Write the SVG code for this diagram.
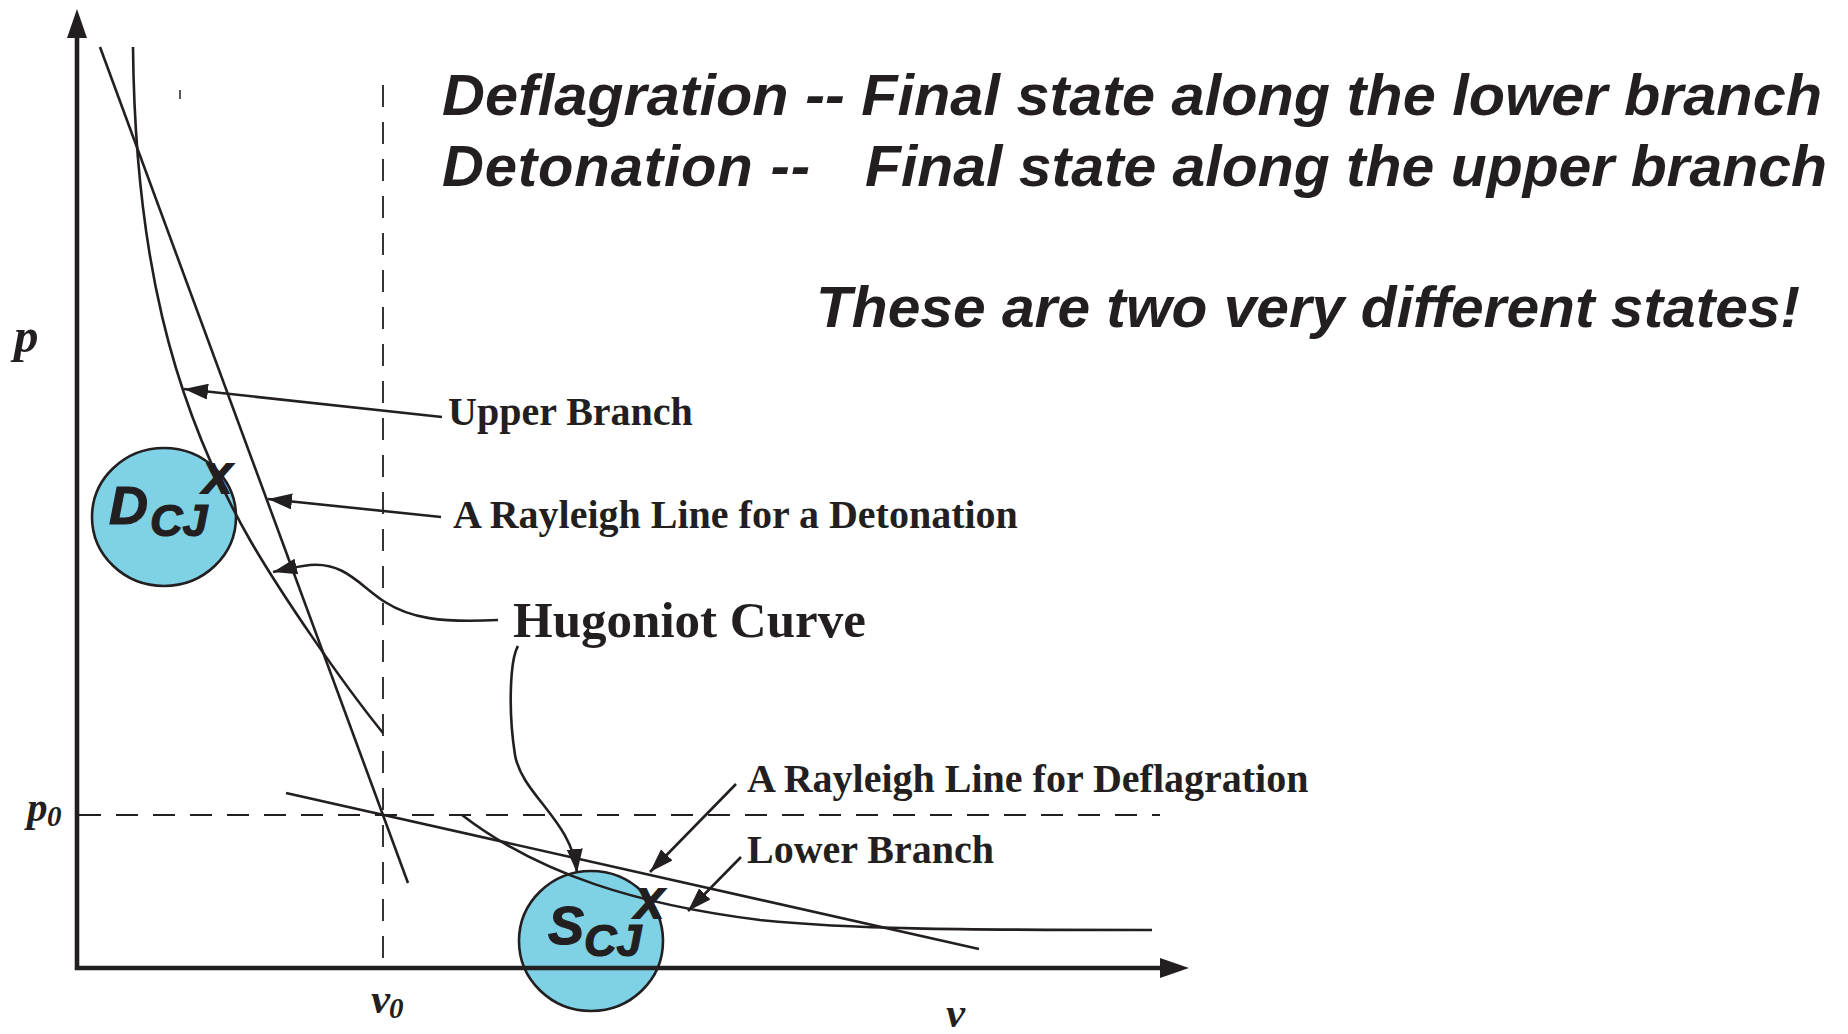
<svg xmlns="http://www.w3.org/2000/svg" width="1848" height="1034" viewBox="0 0 1848 1034">
<style>
.ln{fill:none;stroke:#231f20;stroke-width:2.6;stroke-linecap:butt}
.dash{fill:none;stroke:#231f20;stroke-width:1.8;stroke-dasharray:22 15}
.ax{fill:none;stroke:#231f20;stroke-width:4.6}
.ahd{fill:#231f20;stroke:none}
.node{fill:#7fd1e5;stroke:#231f20;stroke-width:2.6}
.title{font-family:"Liberation Sans",Arial,sans-serif;font-weight:bold;font-style:italic;font-size:58px;fill:#231f20}
.lbl{font-family:"Liberation Serif","Times New Roman",serif;font-weight:bold;fill:#231f20}
.sym{font-family:"Liberation Serif","Times New Roman",serif;font-weight:bold;font-style:italic;fill:#231f20}
.st{font-family:"Liberation Sans",Arial,sans-serif;font-weight:bold;font-style:italic;fill:#231f20;stroke:#231f20;stroke-width:1.2}
.xm{font-family:"Liberation Sans",Arial,sans-serif;font-weight:bold;font-style:italic;fill:#231f20;stroke:#231f20;stroke-width:2.2}
</style>
<defs>
<marker id="arr" viewBox="0 0 24 16" refX="24" refY="8" markerWidth="24" markerHeight="16" markerUnits="userSpaceOnUse" orient="auto">
<path d="M0,0 L24,8 L0,16 z" fill="#231f20"/>
</marker>
</defs>

<!-- state nodes (drawn beneath curves) -->
<g id="node-DCJ">
<ellipse class="node" cx="164" cy="517" rx="72" ry="69"/>
<text class="st" x="109" y="524" font-size="54">D</text>
<text class="st" x="150" y="536" font-size="45">CJ</text>
<text class="xm" x="203" y="493" font-size="42">X</text>
</g>
<g id="node-SCJ">
<ellipse class="node" cx="591" cy="941" rx="72" ry="70"/>
<text class="st" x="548" y="944" font-size="54">S</text>
<text class="st" x="584" y="956" font-size="45">CJ</text>
<text class="xm" x="635" y="918" font-size="42">X</text>
</g>

<!-- axes -->
<g id="axes">
<path class="ax" d="M77,36 L77,968 L1162,968" stroke-linejoin="miter"/>
<polygon class="ahd" points="77,9 67,38 87,38"/>
<polygon class="ahd" points="1189,968 1160,958 1160,978"/>
<line class="dash" x1="383" y1="85" x2="383" y2="966"/>
<line class="dash" x1="79" y1="815" x2="1160" y2="815"/>
<line x1="180" y1="90" x2="180" y2="99" stroke="#231f20" stroke-width="1.5"/>
</g>

<!-- curves -->
<g id="curves">
<path class="ln" d="M133,47 C135,250 170,400 250,540 C280,592 340,680 383,733"/>
<path class="ln" d="M462,815 C540,875 640,905 760,920 C850,929 950,930 1152,930"/>
<line class="ln" x1="100" y1="47" x2="408" y2="883"/>
<line class="ln" x1="286" y1="793" x2="979" y2="949"/>
</g>

<!-- axis labels -->
<g id="axis-labels">
<text class="sym" x="14" y="352" font-size="49">p</text>
<text class="sym" x="27" y="821" font-size="41">p</text>
<text class="sym" x="47" y="826" font-size="29">0</text>
<text class="sym" x="371" y="1013" font-size="43">v</text>
<text class="sym" x="389" y="1018" font-size="29">0</text>
<text class="sym" x="946" y="1027" font-size="43">v</text>
</g>

<!-- connectors -->
<g id="connectors">
<line class="ln" x1="442" y1="417" x2="184" y2="389" marker-end="url(#arr)"/>
<line class="ln" x1="441" y1="517" x2="268" y2="499" marker-end="url(#arr)"/>
<path class="ln" d="M498,620 C440,623 410,618 385,602 C360,586 345,562 310,565 C300,566 290,568 273,572" marker-end="url(#arr)"/>
<path class="ln" d="M518,646 C510,660 508,710 515,755 C522,795 572,820 577,873" marker-end="url(#arr)"/>
<line class="ln" x1="736" y1="784" x2="650" y2="872" marker-end="url(#arr)"/>
<line class="ln" x1="741" y1="857" x2="688" y2="911" marker-end="url(#arr)"/>
</g>

<!-- labels -->
<g id="labels">
<text class="lbl" x="448" y="425" font-size="40">Upper Branch</text>
<text class="lbl" x="453" y="528" font-size="40">A Rayleigh Line for a Detonation</text>
<text class="lbl" x="513" y="637" font-size="51">Hugoniot Curve</text>
<text class="lbl" x="747" y="792" font-size="40">A Rayleigh Line for Deflagration</text>
<text class="lbl" x="747" y="863" font-size="40">Lower Branch</text>
</g>

<!-- titles -->
<g id="titles">
<text class="title" x="442" y="115" textLength="1380" lengthAdjust="spacingAndGlyphs">Deflagration -- Final state along the lower branch</text>
<text class="title" x="442" y="186" textLength="368" lengthAdjust="spacing">Detonation --</text>
<text class="title" x="865" y="186" textLength="962" lengthAdjust="spacingAndGlyphs">Final state along the upper branch</text>
<text class="title" x="816" y="327" textLength="984" lengthAdjust="spacingAndGlyphs">These are two very different states!</text>
</g>
</svg>
